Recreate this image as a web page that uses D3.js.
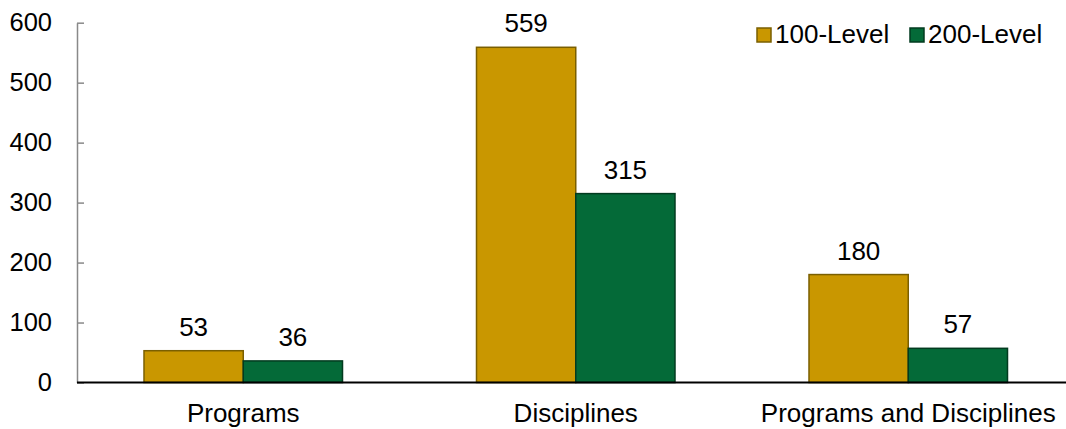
<!DOCTYPE html>
<html>
<head>
<meta charset="utf-8">
<script src="https://cdn.jsdelivr.net/npm/d3@7"></script>
<style>
  body { margin: 0; background: #fff; }
  text { font-family: "Liberation Sans", Arial, sans-serif; fill: #000; }
</style>
</head>
<body>
<svg id="chart"></svg>
<script>
const categories = ["Programs", "Disciplines", "Programs and Disciplines"];
const seriesNames = ["100-Level", "200-Level"];
const level100 = [53, 559, 180];
const level200 = [36, 315, 57];
const yTicks = [0, 100, 200, 300, 400, 500, 600];

const colors = ["#C99700", "#046A38"];
const strokes = ["#7A5F00", "#023B1F"];

const width = 1066, height = 429;
const fontSize = 26;

const svg = d3.select("#chart").attr("width", width).attr("height", height);

// Scales
const x = d3.scaleBand().domain(categories).range([77, 1074.5])
  .paddingInner(0.403).paddingOuter(0.2015);
const xSub = d3.scaleBand().domain(seriesNames).range([0, x.bandwidth()]);
const y = d3.scaleLinear().domain([0, 600]).range([382.5, 22.7]);

const data = categories.map((c, i) => ({
  cat: c,
  values: [
    { name: seriesNames[0], v: level100[i], k: 0 },
    { name: seriesNames[1], v: level200[i], k: 1 }
  ]
}));

// Y axis
const yAxis = svg.append("g")
  .attr("transform", "translate(77,0)")
  .call(d3.axisLeft(y).tickValues(yTicks).tickSizeInner(-7).tickSizeOuter(0).tickPadding(25));
yAxis.select(".domain").attr("stroke", "#898989").attr("stroke-width", 1.5);
yAxis.selectAll(".tick line").attr("stroke", "#898989").attr("stroke-width", 1.5);
yAxis.selectAll(".tick text")
  .attr("font-size", 25.5).attr("font-family", "Liberation Sans, Arial, sans-serif").attr("fill", "#000");

// Bars
const groups = svg.append("g").selectAll("g")
  .data(data)
  .join("g")
  .attr("transform", d => `translate(${x(d.cat)},0)`);

groups.selectAll("rect")
  .data(d => d.values)
  .join("rect")
  .attr("x", d => xSub(d.name))
  .attr("y", d => y(d.v))
  .attr("width", xSub.bandwidth())
  .attr("height", d => y(0) - y(d.v))
  .attr("fill", d => colors[d.k])
  .attr("stroke", d => strokes[d.k])
  .attr("stroke-width", 1.5);

groups.selectAll("text.val")
  .data(d => d.values)
  .join("text")
  .attr("class", "val")
  .attr("x", d => xSub(d.name) + xSub.bandwidth() / 2)
  .attr("y", d => y(d.v) - 15)
  .attr("text-anchor", "middle")
  .attr("font-size", fontSize)
  .text(d => d.v);

// Baseline
svg.append("line")
  .attr("x1", 77).attr("x2", width)
  .attr("y1", y(0)).attr("y2", y(0))
  .attr("stroke", "#000").attr("stroke-width", 2);

// Category labels
svg.append("g").selectAll("text")
  .data(categories)
  .join("text")
  .attr("x", d => x(d) + x.bandwidth() / 2)
  .attr("y", 421.5)
  .attr("text-anchor", "middle")
  .attr("font-size", fontSize)
  .text(d => d);

// Legend
const legendX = [757, 910];
const legend = svg.append("g").selectAll("g")
  .data(seriesNames)
  .join("g")
  .attr("transform", (d, i) => `translate(${legendX[i]},28)`);
legend.append("rect")
  .attr("width", 14).attr("height", 14)
  .attr("fill", (d, i) => colors[i])
  .attr("stroke", (d, i) => strokes[i])
  .attr("stroke-width", 1.5);
legend.append("text")
  .attr("x", 18).attr("y", 15)
  .attr("font-size", fontSize)
  .text(d => d);
</script>
</body>
</html>
